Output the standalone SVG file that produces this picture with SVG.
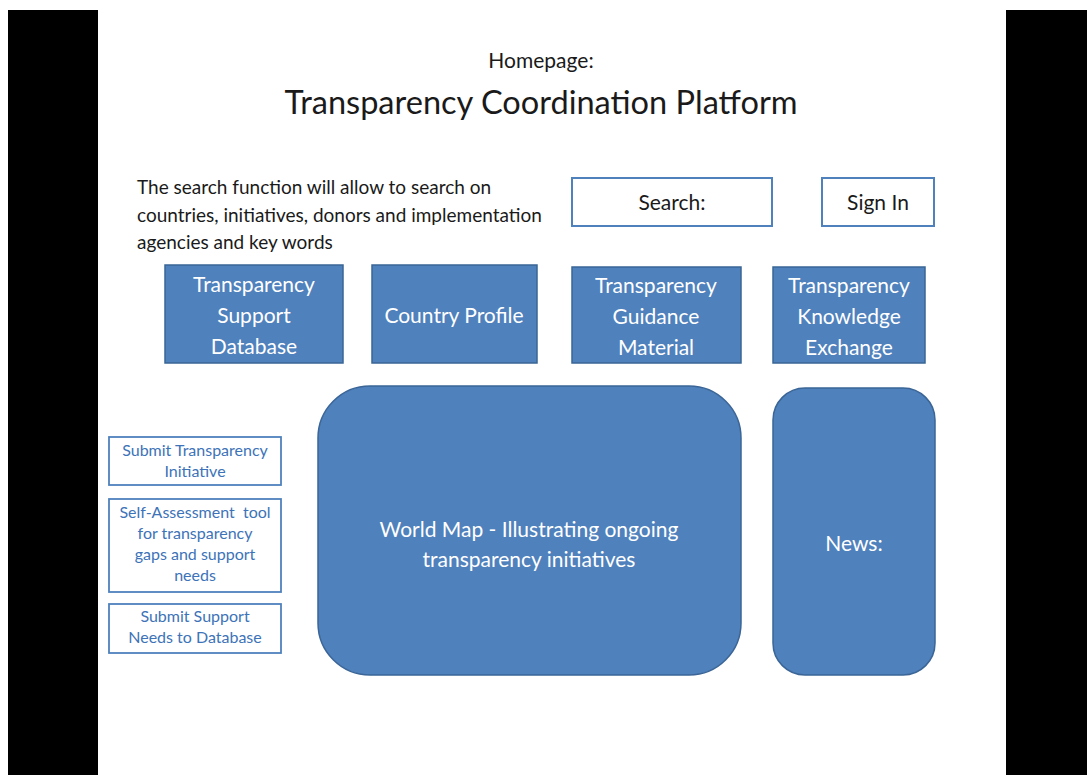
<svg xmlns="http://www.w3.org/2000/svg" width="1087" height="775" viewBox="0 0 1087 775">
  <style>
    text { font-family: Lato, "Open Sans", "Liberation Sans", sans-serif; }
    .dark { fill: #1a1a1a; }
    .white { fill: #ffffff; font-size: 21px; text-anchor: middle; }
    .link { fill: #3d73b8; font-size: 16px; text-anchor: middle; }
    .tile { fill: #4f81bd; stroke: #3a6596; stroke-width: 1.5; }
    .field { fill: #ffffff; stroke: #4f81bd; stroke-width: 2; }
    .side { fill: #ffffff; stroke: #4f81bd; stroke-width: 1.8; }
  </style>

  <!-- page background with dark side margins -->
  <rect x="0" y="0" width="1087" height="775" fill="#ffffff"/>
  <rect x="8" y="10" width="90" height="765" fill="#000000"/>
  <rect x="1006" y="10" width="81" height="765" fill="#000000"/>

  <!-- heading -->
  <text x="541" y="68" class="dark" font-size="21" text-anchor="middle">Homepage:</text>
  <text x="541" y="114" class="dark" font-size="33" text-anchor="middle" textLength="513" lengthAdjust="spacingAndGlyphs">Transparency Coordination Platform</text>

  <!-- search explanation -->
  <g id="search-note" class="dark" font-size="19">
    <text x="137" y="194">The search function will allow to search on</text>
    <text x="137" y="222">countries, initiatives, donors and implementation</text>
    <text x="137" y="249">agencies and key words</text>
  </g>

  <g id="search">
    <rect x="572" y="178" width="200" height="48" class="field"/>
    <text x="672" y="210" class="dark" font-size="21" text-anchor="middle">Search:</text>
  </g>
  <g id="sign-in">
    <rect x="822" y="178" width="112" height="48" class="field"/>
    <text x="878" y="210" class="dark" font-size="21" text-anchor="middle">Sign In</text>
  </g>

  <!-- main navigation tiles -->
  <g id="support-database">
    <rect x="165" y="265" width="178" height="98" class="tile"/>
    <text x="254" y="292" class="white">Transparency</text>
    <text x="254" y="323" class="white">Support</text>
    <text x="254" y="354" class="white">Database</text>
  </g>
  <g id="country-profile">
    <rect x="372" y="265" width="165" height="98" class="tile"/>
    <text x="454" y="323" class="white">Country Profile</text>
  </g>
  <g id="guidance-material">
    <rect x="572" y="267" width="169" height="96" class="tile"/>
    <text x="656" y="293" class="white">Transparency</text>
    <text x="656" y="324" class="white">Guidance</text>
    <text x="656" y="355" class="white">Material</text>
  </g>
  <g id="knowledge-exchange">
    <rect x="773" y="267" width="152" height="96" class="tile"/>
    <text x="849" y="293" class="white">Transparency</text>
    <text x="849" y="324" class="white">Knowledge</text>
    <text x="849" y="355" class="white">Exchange</text>
  </g>

  <!-- side actions -->
  <g id="submit-initiative">
    <rect x="109" y="437" width="172" height="48" class="side"/>
    <text x="195" y="456" class="link">Submit Transparency</text>
    <text x="195" y="477" class="link">Initiative</text>
  </g>
  <g id="self-assessment">
    <rect x="109" y="499" width="172" height="93" class="side"/>
    <text x="195" y="518" class="link" xml:space="preserve">Self-Assessment  tool</text>
    <text x="195" y="539" class="link">for transparency</text>
    <text x="195" y="560" class="link">gaps and support</text>
    <text x="195" y="581" class="link">needs</text>
  </g>
  <g id="submit-needs">
    <rect x="109" y="604" width="172" height="49" class="side"/>
    <text x="195" y="622" class="link">Submit Support</text>
    <text x="195" y="643" class="link">Needs to Database</text>
  </g>

  <!-- content panels -->
  <g id="world-map">
    <rect x="318" y="386" width="423" height="289" rx="52" ry="52" class="tile"/>
    <text x="529" y="537" class="white">World Map - Illustrating ongoing</text>
    <text x="529" y="567" class="white">transparency initiatives</text>
  </g>
  <g id="news">
    <rect x="773" y="388" width="162" height="287" rx="32" ry="32" class="tile"/>
    <text x="854" y="551" class="white">News:</text>
  </g>

  <g id="connectors"/>
</svg>
